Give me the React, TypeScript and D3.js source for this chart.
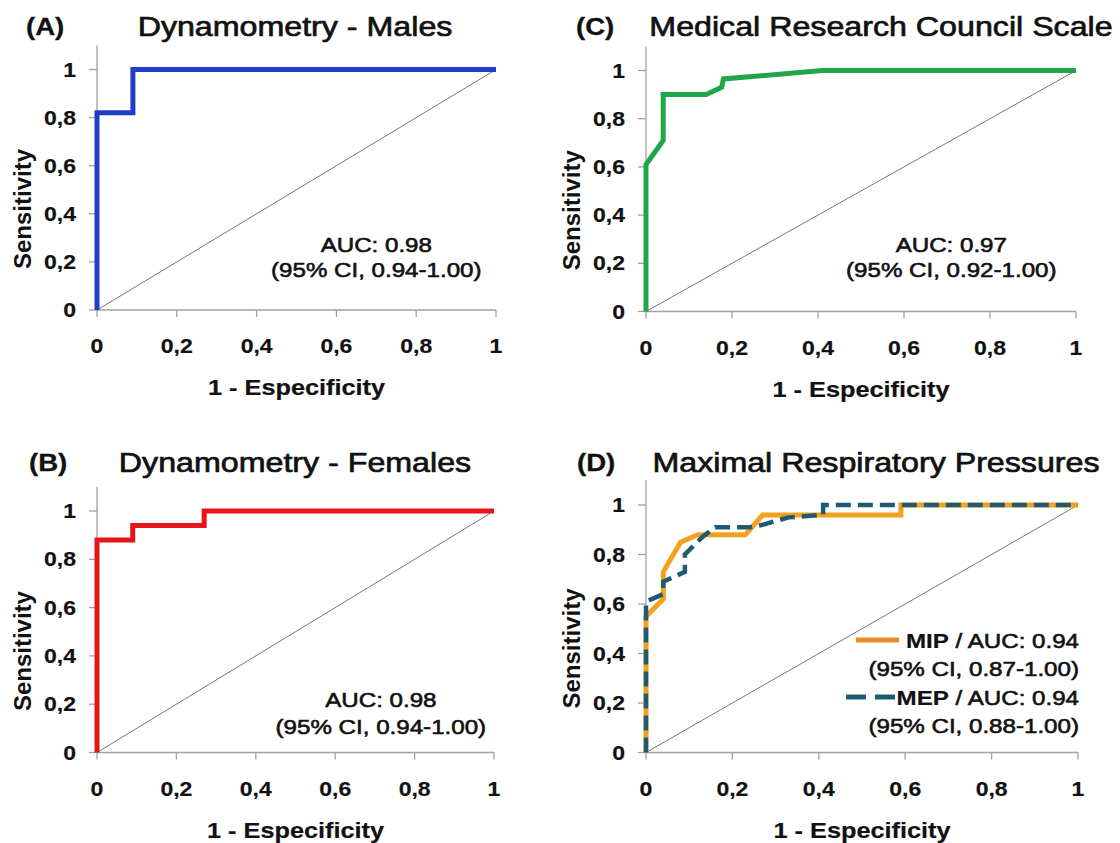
import React, { useEffect, useRef } from 'react';
import * as d3 from 'd3';

// tick values shared by all four panels
const xTicks = [0, 0.2, 0.4, 0.6, 0.8, 1];
const yTicks = [0, 0.2, 0.4, 0.6, 0.8, 1];
const tickFmt = (v: number) => (v === 0 || v === 1 ? String(v) : d3.format('.1f')(v).replace('.', ','));

// (A) dynamometry males
const malesFpr = [0, 0, 0.09, 0.09, 1];
const malesTpr = [0, 0.82, 0.82, 1, 1];

// (B) dynamometry females
const femalesFpr = [0, 0, 0.09, 0.09, 0.27, 0.27, 1];
const femalesTpr = [0, 0.88, 0.88, 0.94, 0.94, 1, 1];

// (C) MRC scale
const mrcFpr = [0, 0, 0.04, 0.04, 0.14, 0.176, 0.18, 0.41, 1];
const mrcTpr = [0, 0.61, 0.71, 0.9, 0.9, 0.93, 0.965, 1, 1];

// (D) respiratory pressures
const mipFpr = [0, 0, 0.04, 0.04, 0.08, 0.12, 0.23, 0.27, 0.59, 0.59, 1];
const mipTpr = [0, 0.55, 0.62, 0.73, 0.85, 0.88, 0.88, 0.96, 0.96, 1, 1];
const mepFpr = [0, 0, 0.04, 0.04, 0.09, 0.09, 0.13, 0.16, 0.24, 0.27, 0.33, 0.41, 0.41, 1];
const mepTpr = [0, 0.61, 0.64, 0.69, 0.73, 0.8, 0.87, 0.91, 0.91, 0.92, 0.95, 0.96, 1, 1];

const FONT = '"Liberation Sans", Arial, sans-serif';
const SX = 1.15; // the source figure is stretched sideways

const zip = (xs: number[], ys: number[]) => xs.map((x, i) => [x, ys[i]] as [number, number]);

const panels = [
  {
    tag: '(A)', title: 'Dynamometry - Males', tagX: 26, titleX: 295, titleY: 36,
    x0: 97, x1: 496, y0: 310, y1: 69.5,
    series: [{ pts: zip(malesFpr, malesTpr), color: '#1d3fc6', dash: null }],
    auc: ['AUC: 0.98', '(95% CI, 0.94-1.00)'], aucX: 0.7, aucY: [0.24, 0.137],
  },
  {
    tag: '(B)', title: 'Dynamometry - Females', tagX: 29, titleX: 295, titleY: 472,
    x0: 97, x1: 494, y0: 752.5, y1: 511,
    series: [{ pts: zip(femalesFpr, femalesTpr), color: '#e8131b', dash: null }],
    auc: ['AUC: 0.98', '(95% CI, 0.94-1.00)'], aucX: 0.715, aucY: [0.188, 0.077],
  },
  {
    tag: '(C)', title: 'Medical Research Council Scale', tagX: 576, titleX: 881, titleY: 36,
    x0: 646, x1: 1076, y0: 311.5, y1: 70.5,
    series: [{ pts: zip(mrcFpr, mrcTpr), color: '#1fa64b', dash: null }],
    auc: ['AUC: 0.97', '(95% CI, 0.92-1.00)'], aucX: 0.71, aucY: [0.247, 0.143],
  },
  {
    tag: '(D)', title: 'Maximal Respiratory Pressures', tagX: 577, titleX: 876, titleY: 472,
    x0: 646, x1: 1078, y0: 752.5, y1: 505,
    series: [
      { pts: zip(mipFpr, mipTpr), color: '#f4a11f', dash: null },
      { pts: zip(mepFpr, mepTpr), color: '#1e5a74', dash: '15,7' },
    ],
    auc: null, aucX: 0, aucY: [0, 0],
  },
];

const App = () => {
  const ref = useRef<SVGSVGElement>(null);

  useEffect(() => {
    const svg = d3.select(ref.current);
    svg.selectAll('*').remove();

    const text = (g: any, x: number, y: number, s: string, size: number, weight: string, anchor: string, thick = 0.4) =>
      g.append('text')
        .attr('transform', `translate(${x},${y}) scale(${SX},1)`)
        .attr('font-family', FONT)
        .attr('font-size', size)
        .attr('font-weight', weight)
        .attr('text-anchor', anchor)
        .attr('fill', '#111')
        .attr('stroke', '#111')
        .attr('stroke-width', thick)
        .text(s);

    panels.forEach(p => {
      const g = svg.append('g');
      const x = d3.scaleLinear().domain([0, 1]).range([p.x0, p.x1]);
      const y = d3.scaleLinear().domain([0, 1]).range([p.y0, p.y1]);

      // axes
      g.append('line').attr('x1', x(0)).attr('x2', x(0)).attr('y1', y(0)).attr('y2', y(1.1))
        .attr('stroke', '#a0a0a0').attr('stroke-width', 1.3);
      g.append('line').attr('x1', x(0)).attr('x2', x(1)).attr('y1', y(0)).attr('y2', y(0))
        .attr('stroke', '#a0a0a0').attr('stroke-width', 1.3);
      g.selectAll('.yt').data(yTicks).enter().append('line')
        .attr('x1', x(0) - 8).attr('x2', x(0)).attr('y1', d => y(d)).attr('y2', d => y(d))
        .attr('stroke', '#a0a0a0').attr('stroke-width', 1.3);
      g.selectAll('.xt').data(xTicks).enter().append('line')
        .attr('x1', d => x(d)).attr('x2', d => x(d)).attr('y1', y(0)).attr('y2', y(0) + 7)
        .attr('stroke', '#a0a0a0').attr('stroke-width', 1.3);

      yTicks.forEach(v => text(g, x(0) - 21, y(v) + 7, tickFmt(v), 20, 'bold', 'end', 0.2));
      xTicks.forEach(v => text(g, x(v), y(0) + 43, tickFmt(v), 20, 'bold', 'middle', 0.2));

      // titles
      text(g, p.tagX, p.titleY - 1, p.tag, 24, 'bold', 'start', 0.3);
      text(g, p.titleX, p.titleY, p.title, 28, 'normal', 'middle', 0.7);
      text(g, (p.x0 + p.x1) / 2, y(0) + 85, '1 - Especificity', 22, 'bold', 'middle', 0.2);
      g.append('text')
        .attr('transform', `translate(${x(0) - 66},${y(0.42)}) rotate(-90)`)
        .attr('font-family', FONT).attr('font-size', 24).attr('font-weight', 'bold')
        .attr('text-anchor', 'middle').attr('fill', '#111')
        .text('Sensitivity');

      // reference diagonal
      g.append('line').attr('x1', x(0)).attr('y1', y(0)).attr('x2', x(1)).attr('y2', y(1))
        .attr('stroke', '#777').attr('stroke-width', 1);

      const line = d3.line<[number, number]>().x(d => x(d[0])).y(d => y(d[1]));
      p.series.forEach(s => {
        g.append('path').attr('d', line(s.pts) as string)
          .attr('fill', 'none').attr('stroke', s.color).attr('stroke-width', s.dash ? 4.5 : 5)
          .attr('stroke-dasharray', s.dash)
          .attr('stroke-linejoin', 'miter');
      });

      if (p.auc) {
        text(g, x(p.aucX), y(p.aucY[0]), p.auc[0], 21, 'normal', 'middle', 0.6);
        text(g, x(p.aucX), y(p.aucY[1]), p.auc[1], 21, 'normal', 'middle', 0.6);
      }
    });

    // legend of panel D
    const lg = svg.append('g');
    const legendRows = [
      { name: 'MIP', rest: ' / AUC: 0.94', ci: '(95% CI, 0.87-1.00)', color: '#f08a24', dash: null, y: 640 },
      { name: 'MEP', rest: ' / AUC: 0.94', ci: '(95% CI, 0.88-1.00)', color: '#1e5a74', dash: '20,9', y: 697 },
    ];
    legendRows.forEach(r => {
      lg.append('line').attr('x1', r.dash ? 846 : 856).attr('x2', 899).attr('y1', r.y).attr('y2', r.y)
        .attr('stroke', r.color).attr('stroke-width', 5).attr('stroke-dasharray', r.dash);
      const t = text(lg, 1079, r.y + 7.5, '', 21, 'normal', 'end', 0.6);
      t.append('tspan').attr('font-weight', 'bold').attr('stroke-width', 0.2).text(r.name);
      t.append('tspan').text(r.rest);
      text(lg, 1079, r.y + 35.5, r.ci, 21, 'normal', 'end', 0.6);
    });
  }, []);

  return (
    <svg ref={ref} width={1120} height={843}
      style={{ position: 'absolute', left: 0, top: 0, background: '#fff' }} />
  );
};

export default App;
